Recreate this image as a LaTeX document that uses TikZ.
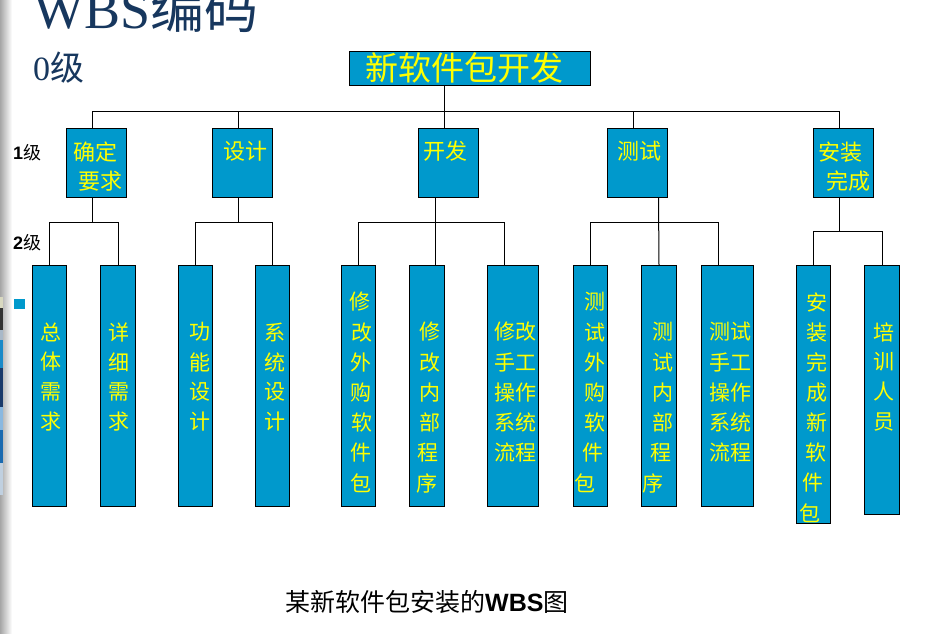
\documentclass[tikz,border=0pt]{standalone}
\usepackage{fontspec}
\setmainfont{Liberation Serif}
\newfontfamily\cjk{Noto Sans CJK SC}
\newfontfamily\arial{Liberation Sans}
\definecolor{boxblue}{HTML}{0099CC}
\definecolor{txtyel}{HTML}{FFFF00}
\definecolor{titleblue}{HTML}{17375E}
\definecolor{edgeA}{HTML}{D8D8C0}
\definecolor{edgeB}{HTML}{333333}
\definecolor{edgeC}{HTML}{A8B8C8}
\definecolor{edgeD}{HTML}{1A8AC8}
\definecolor{edgeE}{HTML}{1A3A6A}
\definecolor{edgeF}{HTML}{8AB8E0}
\definecolor{edgeG}{HTML}{1A6AB0}
\definecolor{edgeH}{HTML}{C0D0E0}
\begin{document}
\begin{tikzpicture}[x=1pt,y=-1pt,
  wbox/.style={draw=black, line width=1pt, fill=boxblue, inner sep=0pt, anchor=north west},
  conn/.style={draw=black, line width=1pt},
  l0t/.style={inner sep=0pt, text=txtyel, font=\cjk\fontsize{33}{33}\selectfont},
  l1t/.style={inner sep=0pt, text=txtyel, font=\cjk\fontsize{22}{22}\selectfont},
  l2t/.style={inner sep=0pt, text=txtyel, font=\cjk\fontsize{21}{21}\selectfont}]
\useasboundingbox (0,0) rectangle (927,634);
\fill[white] (0,0) rectangle (927,634);
% left edge of slide
\shade[left color=black!35, right color=white] (0,0) rectangle (12,634);
\fill[edgeA] (0,297) rectangle (3,308);
\fill[edgeB] (0,308) rectangle (3,330);
\fill[edgeC] (0,330) rectangle (3,340);
\fill[edgeD] (0,340) rectangle (3,368);
\fill[edgeE] (0,368) rectangle (3,407);
\fill[edgeF] (0,407) rectangle (3,430);
\fill[edgeG] (0,430) rectangle (3,463);
\fill[edgeH] (0,463) rectangle (3,495);

% titles
\node[inner sep=0pt, anchor=base west, text=titleblue] (title) at (33,29)
  {\fontsize{54}{54}\selectfont WBS{\cjk 编码}};
\node[inner sep=0pt, anchor=base west, text=titleblue] (lv0) at (33,81)
  {\fontsize{34}{34}\selectfont 0{\cjk 级}};
\node[inner sep=0pt, anchor=base west] (lv1) at (13,159)
  {\fontsize{18}{18}\selectfont{\arial\bfseries 1}{\cjk 级}};
\node[inner sep=0pt, anchor=base west] (lv2) at (13,249)
  {\fontsize{18}{18}\selectfont{\arial\bfseries 2}{\cjk 级}};
\node[fill=boxblue, inner sep=0pt, minimum width=11pt, minimum height=10pt, anchor=north west] (bullet) at (14,299) {};
\node[inner sep=0pt, anchor=base west] (caption) at (285,611)
  {\fontsize{25}{25}\selectfont{\cjk 某新软件包安装的}{\arial\bfseries WBS}{\cjk 图}};

% level 0
\node[wbox, minimum width=241pt, minimum height=34pt] (top) at (349,51) {};
\node[l0t] (topt) at (464,68) {新软件包开发};

% level 1 boxes
\node[wbox, minimum width=60pt, minimum height=69pt] (A) at (66,128) {};
\node[wbox, minimum width=60pt, minimum height=69pt] (B) at (212,128) {};
\node[wbox, minimum width=60pt, minimum height=69pt] (C) at (418,128) {};
\node[wbox, minimum width=60pt, minimum height=69pt] (D) at (607,128) {};
\node[wbox, minimum width=60pt, minimum height=69pt] (E) at (813,128) {};
\node[l1t] (At1) at (95,152) {确定};
\node[l1t] (At2) at (100,181) {要求};
\node[l1t] (Bt) at (245,151) {设计};
\node[l1t] (Ct) at (445,151) {开发};
\node[l1t] (Dt) at (639,151) {测试};
\node[l1t] (Et1) at (840,152) {安装};
\node[l1t] (Et2) at (848,181) {完成};

% level 2 boxes
\node[wbox, minimum width=34pt, minimum height=241pt] (a1) at (32,265) {};
\node[wbox, minimum width=35pt, minimum height=241pt] (a2) at (100,265) {};
\node[wbox, minimum width=34pt, minimum height=241pt] (b1) at (178,265) {};
\node[wbox, minimum width=34pt, minimum height=241pt] (b2) at (255,265) {};
\node[wbox, minimum width=34pt, minimum height=241pt] (c1) at (341,265) {};
\node[wbox, minimum width=35pt, minimum height=241pt] (c2) at (409,265) {};
\node[wbox, minimum width=51pt, minimum height=241pt] (c3) at (487,265) {};
\node[wbox, minimum width=34pt, minimum height=241pt] (d1) at (573,265) {};
\node[wbox, minimum width=35pt, minimum height=241pt] (d2) at (641,265) {};
\node[wbox, minimum width=52pt, minimum height=241pt] (d3) at (701,265) {};
\node[wbox, minimum width=34pt, minimum height=258pt] (e1) at (796,265) {};
\node[wbox, minimum width=35pt, minimum height=249pt] (e2) at (864,265) {};

% level 2 texts
\foreach \c [count=\i from 0] in {总,体,需,求}
  \node[l2t] (ta1-\i) at (51,332+30*\i) {\c};
\foreach \c [count=\i from 0] in {详,细,需,求}
  \node[l2t] (ta2-\i) at (119,332+30*\i) {\c};
\foreach \c [count=\i from 0] in {功,能,设,计}
  \node[l2t] (tb1-\i) at (200,332+30*\i) {\c};
\foreach \c [count=\i from 0] in {系,统,设,计}
  \node[l2t] (tb2-\i) at (275,332+30*\i) {\c};
\foreach \c/\dx [count=\i from 0] in {修/-1,改/1,外/0,购/0,软/1,件/0,包/0}
  \node[l2t] (tc1-\i) at (361+\dx,302+30.2*\i) {\c};
\foreach \c/\dx [count=\i from 0] in {修/0,改/0,内/0,部/0,程/-2,序/-3}
  \node[l2t] (tc2-\i) at (430+\dx,332+30.2*\i) {\c};
\foreach \c [count=\i from 0] in {修改,手工,操作,系统,流程}
  \node[l2t] (tc3-\i) at (515,332+30.2*\i) {\c};
\foreach \c/\dx [count=\i from 0] in {测/0,试/0,外/0,购/0,软/0,件/-2,包/-10}
  \node[l2t] (td1-\i) at (595+\dx,302+30.2*\i) {\c};
\foreach \c/\dx [count=\i from 0] in {测/0,试/0,内/0,部/0,程/-2,序/-10}
  \node[l2t] (td2-\i) at (663+\dx,332+30.2*\i) {\c};
\foreach \c [count=\i from 0] in {测试,手工,操作,系统,流程}
  \node[l2t] (td3-\i) at (730,332+30.2*\i) {\c};
\foreach \c/\dx [count=\i from 0] in {安/0,装/0,完/0,成/0,新/0,软/-1,件/-4,包/-7}
  \node[l2t] (te1-\i) at (817+\dx,302+30.15*\i) {\c};
\foreach \c [count=\i from 0] in {培,训,人,员}
  \node[l2t] (te2-\i) at (884,332+30*\i) {\c};

% connectors level 0 -> 1
\coordinate (busL) at (92,111);
\coordinate (busR) at (839,111);
\draw[conn] (busL) -- (busR);
\draw[conn] ([xshift=-25.5pt]top.south) -- ([xshift=-25.5pt]top.south |- busL);
\draw[conn] ([xshift=-4pt]A.north) -- ([xshift=-4pt]A.north |- busL);
\draw[conn] ([xshift=-4pt]B.north) -- ([xshift=-4pt]B.north |- busL);
\draw[conn] ([xshift=-4pt]C.north) -- ([xshift=-4pt]C.north |- busL);
\draw[conn] ([xshift=-4pt]D.north) -- ([xshift=-4pt]D.north |- busL);
\draw[conn] ([xshift=-4pt]E.north) -- ([xshift=-4pt]E.north |- busL);

% level 1 -> 2
\coordinate (busA) at (0,222);
\coordinate (busE) at (0,231);
\draw[conn] ([xshift=-4pt]A.south) -- ([xshift=-4pt]A.south |- busA);
\draw[conn] (a1.north) -- (a1.north |- busA) -- (a2.north |- busA) -- (a2.north);
\draw[conn] ([xshift=-4pt]B.south) -- ([xshift=-4pt]B.south |- busA);
\draw[conn] (b1.north) -- (b1.north |- busA) -- (b2.north |- busA) -- (b2.north);
\draw[conn] ([xshift=-13pt]C.south) -- ([xshift=8.5pt]c2.north);
\draw[conn] (c1.north) -- (c1.north |- busA) -- ([xshift=-8.5pt]c3.north |- busA) -- ([xshift=-8.5pt]c3.north);
\draw[conn] ([xshift=21pt]D.south) -- (d2.north);
\draw[conn] (d1.north) -- (d1.north |- busA) -- ([xshift=-9pt]d3.north |- busA) -- ([xshift=-9pt]d3.north);
\draw[conn] ([xshift=-4pt]E.south) -- ([xshift=-4pt]E.south |- busE);
\draw[conn] (e1.north) -- (e1.north |- busE) -- (e2.north |- busE) -- (e2.north);
\end{tikzpicture}
\end{document}
